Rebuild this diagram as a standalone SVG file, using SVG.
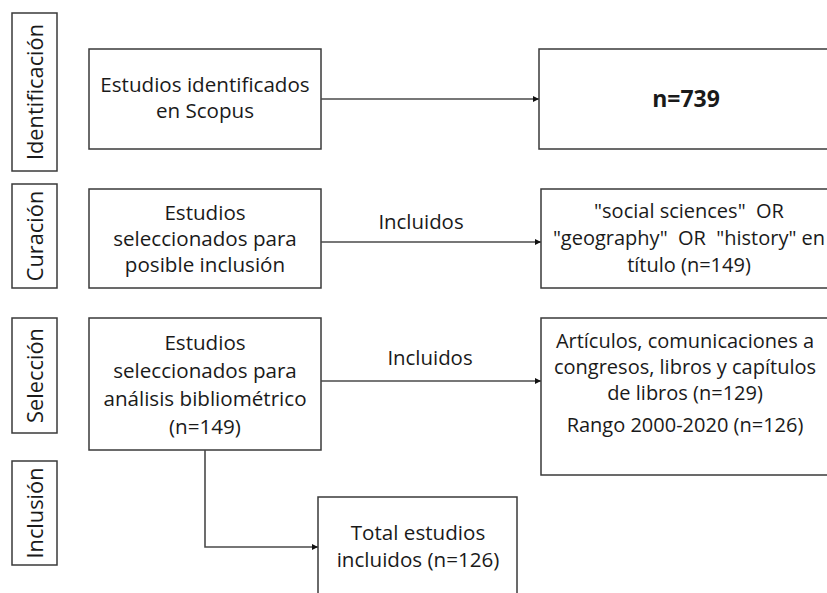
<svg xmlns="http://www.w3.org/2000/svg" width="827" height="593" viewBox="0 0 827 593">
<style>
  .box { fill: #ffffff; stroke: #3a3a3a; stroke-width: 1.5; }
  .t { font-family: "Open Sans", "Noto Sans", "DejaVu Sans", sans-serif; font-size: 20.6px; fill: #1a1a1a; text-anchor: middle; white-space: pre; }
  .r { font-size: 20px; }
  .lbl { font-size: 20.4px; }
  .b { font-weight: bold; font-size: 23px; }
  .side { font-family: "Open Sans", "Noto Sans", "DejaVu Sans", sans-serif; font-size: 21.8px; fill: #1a1a1a; text-anchor: middle; }
  .conn { fill: none; stroke: #4a4a4a; stroke-width: 1.6; }
</style>
<defs>
  <marker id="arr" viewBox="0 0 10 10" refX="10" refY="5" markerWidth="6" markerHeight="6" markerUnits="userSpaceOnUse" orient="auto">
    <path d="M0,0 L10,5 L0,10 Z" fill="#111111"/>
  </marker>
</defs>
<rect width="827" height="593" fill="#ffffff"/>

<g id="stage-identificacion">
  <rect class="box" x="12" y="13" width="45" height="158"/>
  <text class="side" transform="translate(43,92) rotate(-90)">Identificación</text>
</g>
<g id="stage-curacion">
  <rect class="box" x="12" y="184" width="45" height="104"/>
  <text class="side" transform="translate(43,236) rotate(-90)">Curación</text>
</g>
<g id="stage-seleccion">
  <rect class="box" x="12" y="318" width="45" height="115"/>
  <text class="side" transform="translate(43,375.5) rotate(-90)">Selección</text>
</g>
<g id="stage-inclusion">
  <rect class="box" x="12" y="461" width="45" height="104"/>
  <text class="side" transform="translate(43,513) rotate(-90)">Inclusión</text>
</g>

<g id="n-identificados">
  <rect class="box" x="89" y="49" width="232" height="100"/>
  <text class="t" x="205" y="92">Estudios identificados</text>
  <text class="t" x="205" y="118">en Scopus</text>
</g>
<g id="n-739">
  <rect class="box" x="539" y="49" width="300" height="100"/>
  <text class="t b" x="686" y="107">n=739</text>
</g>

<g id="n-posible">
  <rect class="box" x="89" y="189" width="232" height="99"/>
  <text class="t" x="205" y="220">Estudios</text>
  <text class="t" x="205" y="246">seleccionados para</text>
  <text class="t" x="205" y="272">posible inclusión</text>
</g>
<g id="n-titulo">
  <rect class="box" x="541" y="189" width="300" height="99"/>
  <text class="t r" x="689" y="218">"social sciences"  OR</text>
  <text class="t r" x="689" y="245">"geography"  OR  "history" en</text>
  <text class="t r" x="689" y="272">título (n=149)</text>
</g>

<g id="n-bibliometrico">
  <rect class="box" x="89" y="318" width="232" height="132"/>
  <text class="t" x="205" y="350">Estudios</text>
  <text class="t" x="205" y="378">seleccionados para</text>
  <text class="t" x="205" y="406">análisis bibliométrico</text>
  <text class="t" x="205" y="434">(n=149)</text>
</g>
<g id="n-articulos">
  <rect class="box" x="541" y="318" width="300" height="157"/>
  <text class="t r" x="685" y="348">Artículos, comunicaciones a</text>
  <text class="t r" x="685" y="374">congresos, libros y capítulos</text>
  <text class="t r" x="685" y="400">de libros (n=129)</text>
  <text class="t r" x="685" y="432">Rango 2000-2020 (n=126)</text>
</g>

<g id="n-total">
  <rect class="box" x="318" y="497" width="199" height="110"/>
  <text class="t" x="418" y="540">Total estudios</text>
  <text class="t" x="418" y="567">incluidos (n=126)</text>
</g>

<g id="connectors">
  <line class="conn" x1="321" y1="99" x2="539" y2="99" marker-end="url(#arr)"/>
  <line class="conn" x1="321" y1="242" x2="541" y2="242" marker-end="url(#arr)"/>
  <text class="t lbl" x="421" y="229">Incluidos</text>
  <line class="conn" x1="321" y1="381" x2="541" y2="381" marker-end="url(#arr)"/>
  <text class="t lbl" x="430" y="365">Incluidos</text>
  <polyline class="conn" points="205,450 205,547 318,547" marker-end="url(#arr)"/>
</g>
</svg>
